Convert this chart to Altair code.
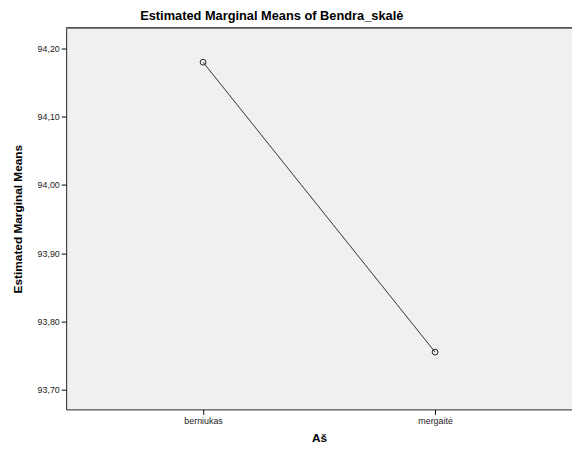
import altair as alt
import pandas as pd

groups = ["berniukas", "mergaitė"]
means = [94.18, 93.755]
y_ticks = [93.70, 93.80, 93.90, 94.00, 94.10, 94.20]

df = pd.DataFrame({"Aš": groups, "mean": means})

FONT = "Liberation Sans"

x_enc = alt.X("Aš:N", sort=groups,
              scale=alt.Scale(type="point", padding=0.59),
              axis=alt.Axis(title="Aš", labelAngle=0, labelFontSize=9, labelColor="#222",
                            titleFontSize=12, titleFontWeight="bold", titleColor="#000",
                            titlePadding=8, tickSize=5, tickColor="#000", domainColor="#222",
                            labelPadding=2, labelFont=FONT, titleFont=FONT))
y_enc = alt.Y("mean:Q",
              scale=alt.Scale(domain=[93.671, 94.2304], nice=False, zero=False),
              axis=alt.Axis(title="Estimated Marginal Means", values=y_ticks,
                            labelExpr="replace(format(datum.value, '.2f'), '.', ',')",
                            labelFontSize=9, labelColor="#222", grid=False,
                            titleFontSize=12, titleFontWeight="bold", titleColor="#000",
                            titlePadding=13, tickSize=5, tickColor="#000", domainColor="#222",
                            labelPadding=2, labelFont=FONT, titleFont=FONT))

line = alt.Chart(df).mark_line(color="#333", strokeWidth=1).encode(x=x_enc, y=y_enc)
pts = alt.Chart(df).mark_point(shape="circle", filled=False, color="#222", size=35,
                               strokeWidth=1, opacity=1).encode(x=x_enc, y=y_enc)
top = alt.Chart(df).mark_rule(color="#555", strokeWidth=1.5).encode(
    x=alt.value(0), x2=alt.value(513), y=alt.value(0))

chart = alt.layer(line, pts, top).properties(
    width=513, height=387,
    autosize=alt.AutoSizeParams(type="none"),
    padding={"left": 59, "top": 17, "right": 0, "bottom": 32},
    title=alt.TitleParams("Estimated Marginal Means of Bendra_skalė", fontSize=13,
                          fontWeight="bold", font=FONT, color="#000", dx=-48, offset=4),
).configure(background="white").configure_view(fill="#f0f0f0", stroke=None)

chart.save("out.html", embed_options={"renderer": "svg", "actions": False})
